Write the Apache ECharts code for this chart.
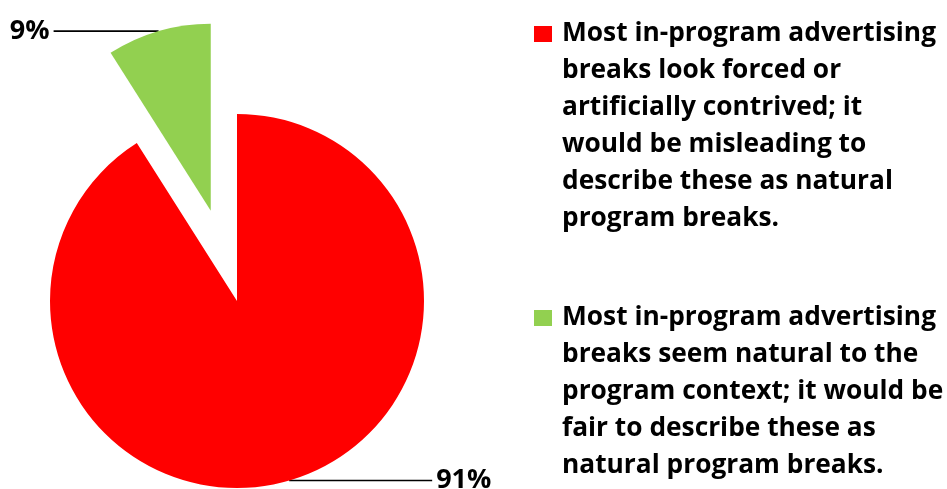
<!DOCTYPE html>
<html>
<head>
<meta charset="utf-8">
<script src="https://cdn.jsdelivr.net/npm/echarts@6/dist/echarts.min.js"></script>
<style>
  html, body { margin: 0; padding: 0; background: #fff; }
  #chart { width: 947px; height: 489px; }
</style>
</head>
<body>
<div id="chart"></div>
<script>
// Survey answers (legend text keeps its own line breaks)
const categories = [
  'Most in-program advertising\nbreaks look forced or\nartificially contrived; it\nwould be misleading to\ndescribe these as natural\nprogram breaks.',
  'Most in-program advertising\nbreaks seem natural to the\nprogram context; it would be\nfair to describe these as\nnatural program breaks.'
];
const shares = [91, 9];
const colors = ['#FF0000', '#92D050'];

const FONT = '"Open Sans", Lato, sans-serif';
const LINE_H = 37;
const BLOCK_H = LINE_H * 6;
const SQ = 16;

// Legend swatch sits beside the first line of its text block
function swatchPath(lines) {
  const textTop = (BLOCK_H - lines * LINE_H) / 2;
  const y0 = textTop + LINE_H / 2 - SQ / 2;
  return 'path://M0,0L0,0M0,' + y0 + 'H18V' + (y0 + SQ) + 'H0Z M18,' + BLOCK_H + 'L18,' + BLOCK_H;
}

const leader = [143, 105];
const labelLift = [22, 16];

const chart = echarts.init(document.getElementById('chart'), null, { renderer: 'canvas' });

chart.setOption({
  animation: false,
  backgroundColor: '#fff',
  legend: {
    orient: 'vertical',
    left: 534,
    top: 15.5,
    height: 600,
    padding: 0,
    itemWidth: 18,
    itemHeight: BLOCK_H,
    itemGap: 43.5,
    selectedMode: false,
    symbolKeepAspect: false,
    itemStyle: { borderWidth: 0 },
    textStyle: {
      fontFamily: FONT,
      fontWeight: 'bold',
      fontSize: 26.3,
      lineHeight: LINE_H,
      color: '#000',
      padding: [0, 0, 0, 5]
    },
    data: categories.map((name) => ({
      name: name,
      icon: swatchPath(name.split('\n').length)
    }))
  },
  series: [{
    type: 'pie',
    center: [237, 301],
    radius: 187,
    startAngle: 90,
    clockwise: true,
    selectedMode: 'single',
    selectedOffset: 94,
    avoidLabelOverlap: false,
    emphasis: { disabled: true },
    itemStyle: { borderWidth: 0 },
    label: {
      show: true,
      position: 'outside',
      formatter: '{c}%',
      fontFamily: FONT,
      fontWeight: 'bold',
      fontSize: 27,
      color: '#000',
      distanceToLabelLine: 4
    },
    labelLine: {
      show: true,
      length: 0,
      lineStyle: { color: '#000', width: 1.6 }
    },
    data: shares.map((v, i) => ({
      name: categories[i],
      value: v,
      selected: i === 1,
      itemStyle: { color: colors[i] },
      label: { padding: [0, 0, labelLift[i], 0] },
      labelLine: { length2: leader[i] }
    }))
  }]
});
</script>
</body>
</html>
